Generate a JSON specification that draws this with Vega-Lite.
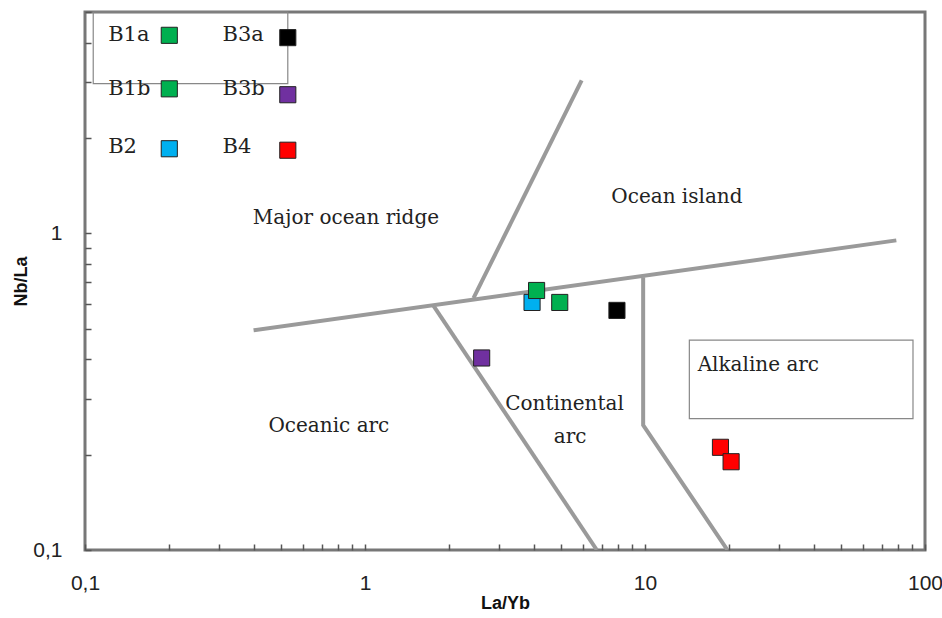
{
  "$schema": "https://vega.github.io/schema/vega-lite/v6.json",
  "width": 840,
  "height": 538,
  "autosize": "none",
  "padding": {"left": 85, "top": 12, "right": 17, "bottom": 68},
  "background": "white",
  "config": {
    "view": {"stroke": "#777777", "strokeWidth": 3},
    "axis": {"domain": false, "grid": false, "tickColor": "#555555", "tickWidth": 1.5, "labelColor": "#222222", "titleColor": "#111111", "labelFont": "Liberation Sans", "titleFont": "Liberation Sans"}
  },
  "datasets": {
    "samples": [
      {"group": "B2", "x": 3.95, "y": 0.605},
      {"group": "B1a", "x": 4.1, "y": 0.66},
      {"group": "B1b", "x": 4.96, "y": 0.605},
      {"group": "B3a", "x": 7.94, "y": 0.571},
      {"group": "B3b", "x": 2.61, "y": 0.404},
      {"group": "B4", "x": 18.6, "y": 0.211},
      {"group": "B4", "x": 20.3, "y": 0.19}
    ],
    "legendSym": [
      {"group": "B1a", "x": 0.2, "y": 4.22},
      {"group": "B1b", "x": 0.2, "y": 2.86},
      {"group": "B2", "x": 0.2, "y": 1.85},
      {"group": "B3a", "x": 0.53, "y": 4.15},
      {"group": "B3b", "x": 0.53, "y": 2.74},
      {"group": "B4", "x": 0.53, "y": 1.83}
    ],
    "legendText": [
      {"text": "B1a", "x": 0.121, "y": 4.22},
      {"text": "B1b", "x": 0.121, "y": 2.86},
      {"text": "B2", "x": 0.121, "y": 1.87},
      {"text": "B3a", "x": 0.31, "y": 4.22},
      {"text": "B3b", "x": 0.31, "y": 2.86},
      {"text": "B4", "x": 0.31, "y": 1.87}
    ],
    "lines": [
      {"id": "a", "ord": 1, "x": 0.4, "y": 0.494},
      {"id": "a", "ord": 2, "x": 79, "y": 0.95},
      {"id": "b", "ord": 1, "x": 2.44, "y": 0.624},
      {"id": "b", "ord": 2, "x": 5.94, "y": 3.04},
      {"id": "c", "ord": 1, "x": 1.75, "y": 0.593},
      {"id": "c", "ord": 2, "x": 6.73, "y": 0.1},
      {"id": "d", "ord": 1, "x": 9.85, "y": 0.726},
      {"id": "d", "ord": 2, "x": 9.85, "y": 0.248},
      {"id": "d", "ord": 3, "x": 19.7, "y": 0.1}
    ],
    "labels": [
      {"text": "Major ocean ridge", "x": 0.855, "y": 1.12},
      {"text": "Ocean island", "x": 13.0, "y": 1.3},
      {"text": "Continental", "x": 5.16, "y": 0.289},
      {"text": "arc", "x": 5.4, "y": 0.227},
      {"text": "Oceanic arc", "x": 0.743, "y": 0.246},
      {"text": "Alkaline arc", "x": 25.4, "y": 0.384}
    ],
    "boxes": [
      {"x": 0.107, "x2": 0.53, "y": 5.0, "y2": 2.97},
      {"x": 14.4, "x2": 90.6, "y": 0.46, "y2": 0.26}
    ]
  },
  "encoding": {
    "x": {
      "field": "x", "type": "quantitative",
      "scale": {"type": "log", "domain": [0.1, 100], "nice": false, "zero": false},
      "axis": {
        "title": "La/Yb", "titleFontSize": 18, "titleFontWeight": "bold", "titlePadding": 1,
        "values": [0.1,0.2,0.3,0.4,0.5,0.6,0.7,0.8,0.9,1,2,3,4,5,6,7,8,9,10,20,30,40,50,60,70,80,90,100],
        "labelExpr": "datum.value == 0.1 ? '0,1' : datum.value == 1 ? '1' : datum.value == 10 ? '10' : datum.value == 100 ? '100' : ''",
        "tickSize": -6, "labelPadding": 28, "labelFontSize": 21, "labelFlush": false
      }
    },
    "y": {
      "field": "y", "type": "quantitative",
      "scale": {"type": "log", "domain": [0.1, 5], "nice": false, "zero": false},
      "axis": {
        "title": "Nb/La", "titleFontSize": 18, "titleFontWeight": "bold", "titlePadding": 2,
        "values": [0.1,0.2,0.3,0.4,0.5,0.6,0.7,0.8,0.9,1,2,3,4,5],
        "labelExpr": "datum.value == 0.1 ? '0,1' : datum.value == 1 ? '1' : ''",
        "tickSize": -6, "labelPadding": 29, "labelFontSize": 21, "labelFlush": false
      }
    }
  },
  "layer": [
    {
      "data": {"name": "lines"},
      "mark": {"type": "line", "color": "#9a9a9a", "strokeWidth": 4, "clip": true},
      "encoding": {"detail": {"field": "id"}, "order": {"field": "ord", "type": "quantitative"}}
    },
    {
      "data": {"name": "boxes"},
      "mark": {"type": "rect", "fill": null, "fillOpacity": 0, "stroke": "#888888", "strokeWidth": 1.2},
      "encoding": {"x2": {"field": "x2"}, "y2": {"field": "y2"}}
    },
    {
      "data": {"name": "labels"},
      "mark": {"type": "text", "font": "DejaVu Serif", "fontSize": 20, "color": "#222222", "align": "center", "baseline": "middle"},
      "encoding": {"text": {"field": "text"}}
    },
    {
      "data": {"name": "legendText"},
      "mark": {"type": "text", "font": "DejaVu Serif", "fontSize": 21, "color": "#222222", "align": "left", "baseline": "middle"},
      "encoding": {"text": {"field": "text"}}
    },
    {
      "data": {"name": "legendSym"},
      "mark": {"type": "point", "shape": "square", "filled": true, "size": 260, "stroke": "#222222", "strokeWidth": 1, "opacity": 1},
      "encoding": {
        "color": {"field": "group", "type": "nominal", "legend": null,
          "scale": {"domain": ["B1a","B1b","B2","B3a","B3b","B4"], "range": ["#00b050","#00b050","#00b0f0","#000000","#7030a0","#ff0000"]}}
      }
    },
    {
      "data": {"name": "samples"},
      "mark": {"type": "point", "shape": "square", "filled": true, "size": 260, "stroke": "#222222", "strokeWidth": 1, "opacity": 1},
      "encoding": {
        "color": {"field": "group", "type": "nominal", "legend": null,
          "scale": {"domain": ["B1a","B1b","B2","B3a","B3b","B4"], "range": ["#00b050","#00b050","#00b0f0","#000000","#7030a0","#ff0000"]}}
      }
    }
  ]
}
